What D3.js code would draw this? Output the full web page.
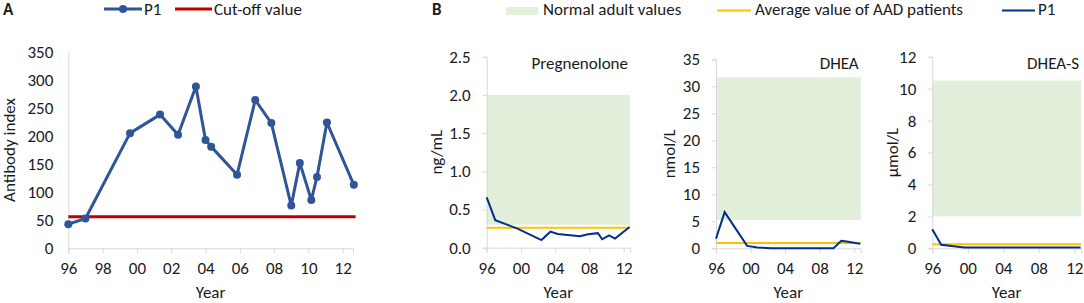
<!DOCTYPE html>
<html>
<head>
<meta charset="utf-8">
<script src="https://cdn.jsdelivr.net/npm/d3@7"></script>
<style>
  html, body { margin: 0; padding: 0; background: #fff; }
  svg { display: block; }
  text { font-family: Carlito, Lato, "Open Sans", sans-serif; fill: #1a1a1a; }
</style>
</head>
<body>
<svg id="chart" width="1084" height="303"></svg>
<script>
// ---------- Data ----------
// Panel A: antibody index
const yearsA = [1996.0, 1997.0, 1999.6, 2001.35, 2002.4, 2003.44, 2004.0, 2004.33, 2005.84, 2006.9, 2007.84, 2009.0, 2009.5, 2010.17, 2010.5, 2011.08, 2012.65];
const antibodyP1 = [43, 53, 205, 238, 202, 288, 193, 181, 131, 264, 223, 76, 152, 86, 127, 224, 113];
const cutoffYears = [1996.0, 2012.75];
const cutoffValue = 56;
const yTicksA = [0, 50, 100, 150, 200, 250, 300, 350];
const xTicksA = [1996, 1998, 2000, 2002, 2004, 2006, 2008, 2010, 2012];

// Panel B: steroids
const xTicksB = [1996, 2000, 2004, 2008, 2012];
const pregYears = [1996.0, 1997.0, 1999.6, 2002.4, 2003.44, 2004.3, 2006.9, 2007.84, 2009.0, 2009.5, 2010.3, 2011.0, 2012.7];
const pregP1 = [0.66, 0.36, 0.25, 0.10, 0.21, 0.18, 0.15, 0.175, 0.19, 0.11, 0.16, 0.12, 0.27];
const pregNormal = [0.3, 2.0];
const pregAAD = 0.26;
const pregTicks = [0, 0.5, 1.0, 1.5, 2.0, 2.5];

const dheaYears = [1996.0, 1997.0, 1999.6, 2000.8, 2002.4, 2009.6, 2010.5, 2011.1, 2012.7];
const dheaP1 = [1.8, 6.7, 0.45, 0.15, 0.0, 0.0, 1.4, 1.25, 0.85];
const dheaNormal = [5.2, 31.7];
const dheaAAD = 1.0;
const dheaTicks = [0, 5, 10, 15, 20, 25, 30, 35];

const dhsYears = [1996.0, 1997.0, 1999.6, 2012.7];
const dhsP1 = [1.2, 0.22, 0.05, 0.05];
const dhsNormal = [2.0, 10.5];
const dhsAAD = 0.25;
const dhsTicks = [0, 2, 4, 6, 8, 10, 12];

// ---------- Drawing ----------
const svg = d3.select("#chart");
const AXIS = "#d9d9d9";
const FS = 17;
const yrFmt = d => String(d % 100).padStart(2, "0");

function styleAxis(g) {
  g.select(".domain").attr("stroke", AXIS).attr("stroke-width", 1);
  g.selectAll(".tick line").attr("stroke", AXIS);
  g.selectAll(".tick text").attr("fill", "#1a1a1a").style("font-size", FS + "px")
    .attr("font-family", null);
}

function panel(cfg) {
  const x = d3.scaleLinear().domain(cfg.xDomain).range([cfg.x0, cfg.x1]);
  const y = d3.scaleLinear().domain(cfg.yDomain).range([cfg.yb, cfg.yt]);
  const g = svg.append("g");

  if (cfg.normal) {
    g.append("rect")
      .attr("x", x(cfg.xDomain[0])).attr("width", x(cfg.xDomain[1]) - x(cfg.xDomain[0]))
      .attr("y", y(cfg.normal[1])).attr("height", y(cfg.normal[0]) - y(cfg.normal[1]))
      .attr("fill", "#e2efda");
  }

  const xa = g.append("g").attr("transform", `translate(0,${cfg.yb})`)
    .call(d3.axisBottom(x).tickValues(cfg.xTicks).tickFormat(yrFmt).tickSizeOuter(0).tickSize(5).tickPadding(9));
  styleAxis(xa);
  const ya = g.append("g").attr("transform", `translate(${cfg.x0},0)`)
    .call(d3.axisLeft(y).tickValues(cfg.yTicks).tickFormat(cfg.yFmt).tickSizeOuter(0).tickSize(cfg.yTickSize).tickPadding(cfg.yPad));
  styleAxis(ya);

  g.append("text").attr("x", (cfg.x0 + cfg.x1) / 2).attr("y", 297.5)
    .attr("text-anchor", "middle").style("font-size", FS + "px").text("Year");
  g.append("text")
    .attr("transform", `translate(${cfg.ylabX},${(cfg.yb + cfg.yt) / 2}) rotate(-90)`)
    .attr("text-anchor", "middle").style("font-size", FS + "px").text(cfg.ylab);
  return {g, x, y};
}

// Panel A
{
  const {g, x, y} = panel({
    xDomain: [1996, 2012.6], yDomain: [0, 350], x0: 68.3, x1: 353, yb: 248.3, yt: 51.7,
    xTicks: xTicksA, yTicks: yTicksA, yFmt: d3.format("d"), yTickSize: 0, yPad: 15,
    ylab: "Antibody index", ylabX: 15
  });
  g.append("path").datum(cutoffYears)
    .attr("d", d3.line().x(d => x(d)).y(() => y(cutoffValue)))
    .attr("stroke", "#c00000").attr("stroke-width", 3).attr("fill", "none");
  const pts = yearsA.map((d, i) => [d, antibodyP1[i]]);
  g.append("path").datum(pts)
    .attr("d", d3.line().x(d => x(d[0])).y(d => y(d[1])))
    .attr("stroke", "#2f5597").attr("stroke-width", 3).attr("fill", "none").attr("stroke-linejoin", "round");
  g.selectAll("circle.p").data(pts).join("circle").attr("class", "p")
    .attr("cx", d => x(d[0])).attr("cy", d => y(d[1])).attr("r", 4)
    .attr("fill", "#2f5597");
}

// Panel B subplots
const bPanels = [
  {years: pregYears, vals: pregP1, normal: pregNormal, aad: pregAAD, ticks: pregTicks, yDomain: [0, 2.5],
   fmt: d3.format(".1f"), x0: 486.7, x1: 630, yb: 247.7, yt: 56.7, ylab: "ng/mL", ylabX: 442, title: "Pregnenolone"},
  {years: dheaYears, vals: dheaP1, normal: dheaNormal, aad: dheaAAD, ticks: dheaTicks, yDomain: [0, 35],
   fmt: d3.format("d"), x0: 716, x1: 860.7, yb: 248.3, yt: 59.3, ylab: "nmol/L", ylabX: 675, title: "DHEA"},
  {years: dhsYears, vals: dhsP1, normal: dhsNormal, aad: dhsAAD, ticks: dhsTicks, yDomain: [0, 12],
   fmt: d3.format("d"), x0: 932.3, x1: 1081, yb: 248.3, yt: 56.7, ylab: "µmol/L", ylabX: 898, title: "DHEA-S"}
];

bPanels.forEach(p => {
  const {g, x, y} = panel({
    xDomain: [1996, 2012.75], yDomain: p.yDomain, x0: p.x0, x1: p.x1, yb: p.yb, yt: p.yt,
    xTicks: xTicksB, yTicks: p.ticks, yFmt: p.fmt, yTickSize: 4, yPad: 12,
    ylab: p.ylab, ylabX: p.ylabX, normal: p.normal
  });
  g.append("path").datum([1996, 2012.75])
    .attr("d", d3.line().x(d => x(d)).y(() => y(p.aad)))
    .attr("stroke", "#ffc000").attr("stroke-width", 2).attr("fill", "none");
  const pts = p.years.map((d, i) => [d, p.vals[i]]);
  g.append("path").datum(pts)
    .attr("d", d3.line().x(d => x(d[0])).y(d => y(d[1])))
    .attr("stroke", "#002f8e").attr("stroke-width", 2).attr("fill", "none");
  g.append("text").attr("x", p.x1 - 2).attr("y", 69).attr("text-anchor", "end")
    .style("font-size", FS + "px").text(p.title);
});

// Panel letters
svg.append("text").attr("x", 3).attr("y", 15).style("font-size", "17px").style("font-weight", "bold").text("A");
svg.append("text").attr("x", 432).attr("y", 15).style("font-size", "17px").style("font-weight", "bold").text("B");

// Legend A
const legA = svg.append("g");
legA.append("line").attr("x1", 104).attr("x2", 142).attr("y1", 9).attr("y2", 9).attr("stroke", "#2f5597").attr("stroke-width", 3);
legA.append("circle").attr("cx", 123).attr("cy", 9).attr("r", 4).attr("fill", "#2f5597");
legA.append("text").attr("x", 144).attr("y", 15).style("font-size", FS + "px").text("P1");
legA.append("line").attr("x1", 175).attr("x2", 212).attr("y1", 9).attr("y2", 9).attr("stroke", "#c00000").attr("stroke-width", 3);
legA.append("text").attr("x", 214).attr("y", 15).style("font-size", FS + "px").text("Cut-off value");

// Legend B
const legB = svg.append("g");
legB.append("rect").attr("x", 506).attr("y", 7).attr("width", 32).attr("height", 8).attr("fill", "#e2efda");
legB.append("text").attr("x", 543).attr("y", 15).style("font-size", FS + "px").text("Normal adult values");
legB.append("line").attr("x1", 717).attr("x2", 751).attr("y1", 10.5).attr("y2", 10.5).attr("stroke", "#ffc000").attr("stroke-width", 2);
legB.append("text").attr("x", 755).attr("y", 15).style("font-size", FS + "px").text("Average value of AAD patients");
legB.append("line").attr("x1", 1002).attr("x2", 1035).attr("y1", 10.5).attr("y2", 10.5).attr("stroke", "#002f8e").attr("stroke-width", 2);
legB.append("text").attr("x", 1038).attr("y", 15).style("font-size", FS + "px").text("P1");
</script>
</body>
</html>
